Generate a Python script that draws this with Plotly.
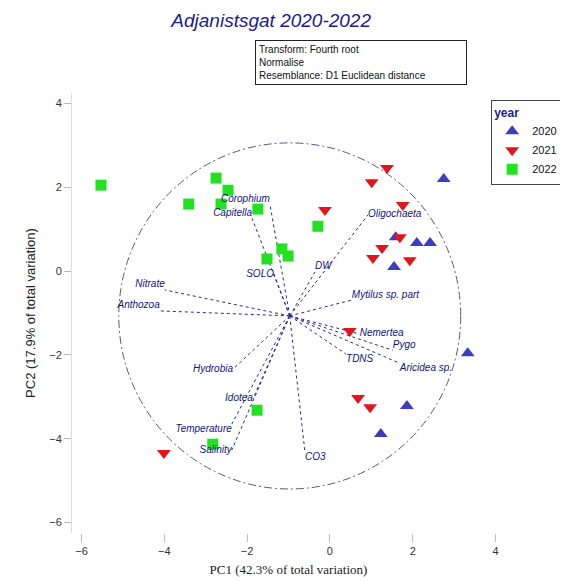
import plotly.graph_objects as go

# ---------------- data ----------------
years = ["2020", "2021", "2022"]

pc1_2020 = [2.75, 2.10, 2.42, 1.55, 1.59, 3.33, 1.86, 1.23]
pc2_2020 = [2.20, 0.67, 0.67, 0.10, 0.81, -1.96, -3.22, -3.89]

pc1_2021 = [1.38, 1.01, -0.12, 1.76, 1.69, 1.26, 1.04, 1.93, 0.48, 0.68, 0.97, -4.01]
pc2_2021 = [2.46, 2.12, 1.46, 1.58, 0.81, 0.55, 0.31, 0.26, -1.43, -3.03, -3.25, -4.34]

pc1_2022 = [-5.53, -3.41, -2.75, -2.63, -2.46, -1.74, -1.52, -1.16, -1.01, -0.29, -1.76, -2.83]
pc2_2022 = [2.05, 1.60, 2.22, 1.60, 1.93, 1.48, 0.29, 0.53, 0.36, 1.07, -3.32, -4.13]

vector_origin = [-0.97, -1.07]
circle_radius = 4.13

vector_names = ["Oligochaeta", "DW", "SOLO", "Corophium", "Capitella", "Nitrate",
                "Anthozoa", "Mytilus sp. part", "Nemertea", "Pygo", "TDNS",
                "Aricidea sp.", "Hydrobia", "Idotea", "Temperature", "Salinity", "CO3"]
vector_x = [0.92, -0.36, -1.35, -1.45, -1.88, -3.99, -4.11, 0.53, 0.72, 1.52, 0.39,
            1.69, -2.34, -1.86, -2.37, -2.37, -0.60]
vector_y = [1.34, -0.02, -0.07, 1.60, 1.26, -0.45, -0.95, -0.69, -1.50, -1.89, -1.98,
            -2.20, -2.34, -3.05, -3.65, -4.27, -4.34]

x_ticks = [-6, -4, -2, 0, 2, 4]
y_ticks = [-6, -4, -2, 0, 2, 4]

title_text = "Adjanistsgat 2020-2022"
info_lines = ["Transform: Fourth root", "Normalise", "Resemblance: D1 Euclidean distance"]
x_title = "PC1 (42.3% of total variation)"
y_title = "PC2 (17.9% of total variation)"

# ---------------- styles ----------------
label_positions = ["middle right", "top right", "middle left", "top left", "top left",
                   "top left", "top left", "top right", "middle right", "top right",
                   "bottom right", "bottom right", "middle left", "middle left",
                   "bottom left", "middle left", "bottom right"]
navy = "#1c1c8a"
SANS = "Liberation Sans, Arial, sans-serif"

fig = go.Figure()

# vectors
vx, vy = [], []
for ex, ey in zip(vector_x, vector_y):
    vx += [vector_origin[0], ex, None]
    vy += [vector_origin[1], ey, None]
fig.add_trace(go.Scatter(x=vx, y=vy, mode="lines", showlegend=False, hoverinfo="skip",
                         line=dict(color="#2a2a96", width=1, dash="3px,3px")))

# circle
fig.add_shape(type="circle", xref="x", yref="y",
              x0=vector_origin[0] - circle_radius, x1=vector_origin[0] + circle_radius,
              y0=vector_origin[1] - circle_radius, y1=vector_origin[1] + circle_radius,
              line=dict(color="#55558c", width=1, dash="8px,3px,2px,3px"), layer="below")

# samples
fig.add_trace(go.Scatter(x=pc1_2020, y=pc2_2020, mode="markers", name=years[0],
                         marker=dict(symbol="triangle-up", size=12, color="#3d3dc2")))
fig.add_trace(go.Scatter(x=pc1_2021, y=pc2_2021, mode="markers", name=years[1],
                         marker=dict(symbol="triangle-down", size=12, color="#e3141c")))
fig.add_trace(go.Scatter(x=pc1_2022, y=pc2_2022, mode="markers", name=years[2],
                         marker=dict(symbol="square", size=11, color="#22e022")))

# vector labels
fig.add_trace(go.Scatter(x=vector_x, y=vector_y, mode="text", text=vector_names,
                         textposition=label_positions, showlegend=False, hoverinfo="skip",
                         textfont=dict(family=SANS, size=10, color="#141478", style="italic")))

fig.add_annotation(xref="paper", yref="paper", x=0.4226, y=1.1205, xanchor="left", yanchor="top",
                   text="<br>".join(info_lines), showarrow=False, align="left",
                   width=204, bordercolor="#222", borderwidth=1, borderpad=3,
                   bgcolor="white", font=dict(family=SANS, size=10, color="#111"))

fig.update_layout(
    width=560, height=573,
    margin=dict(l=64, r=63, t=85, b=48, autoexpand=False),
    paper_bgcolor="white", plot_bgcolor="white",
    title=dict(text=title_text, x=0.46, xref="paper", xanchor="center",
               y=0.979, yanchor="middle",
               font=dict(family=SANS, size=19, color=navy, style="italic")),
    xaxis=dict(range=[-6.23, 4.23], tickvals=x_ticks, showgrid=False, zeroline=False,
               showline=False, ticks="outside", ticklen=8, tickcolor="#bbb",
               tickfont=dict(family=SANS, size=11, color="#333"),
               title=dict(text=x_title, font=dict(family="Liberation Serif, serif", size=13, color="#222"),
                          standoff=8)),
    yaxis=dict(range=[-6.25, 4.25], tickvals=y_ticks, showgrid=False, zeroline=False,
               showline=True, linecolor="#dddddd", ticks="outside", ticklen=7, tickcolor="#bbb",
               tickfont=dict(family=SANS, size=11, color="#333"),
               title=dict(text=y_title, font=dict(family=SANS, size=13, color="#222"), standoff=10)),
    legend=dict(x=0.968, y=0.984, xanchor="left", yanchor="top", xref="paper", yref="paper",
                bordercolor="#444", borderwidth=1, bgcolor="white",
                title=dict(text="<b>year</b>", font=dict(family=SANS, size=12, color=navy)),
                font=dict(family=SANS, size=11, color="#111"), tracegroupgap=0),
    showlegend=True,
)

fig.write_html("out.html")
